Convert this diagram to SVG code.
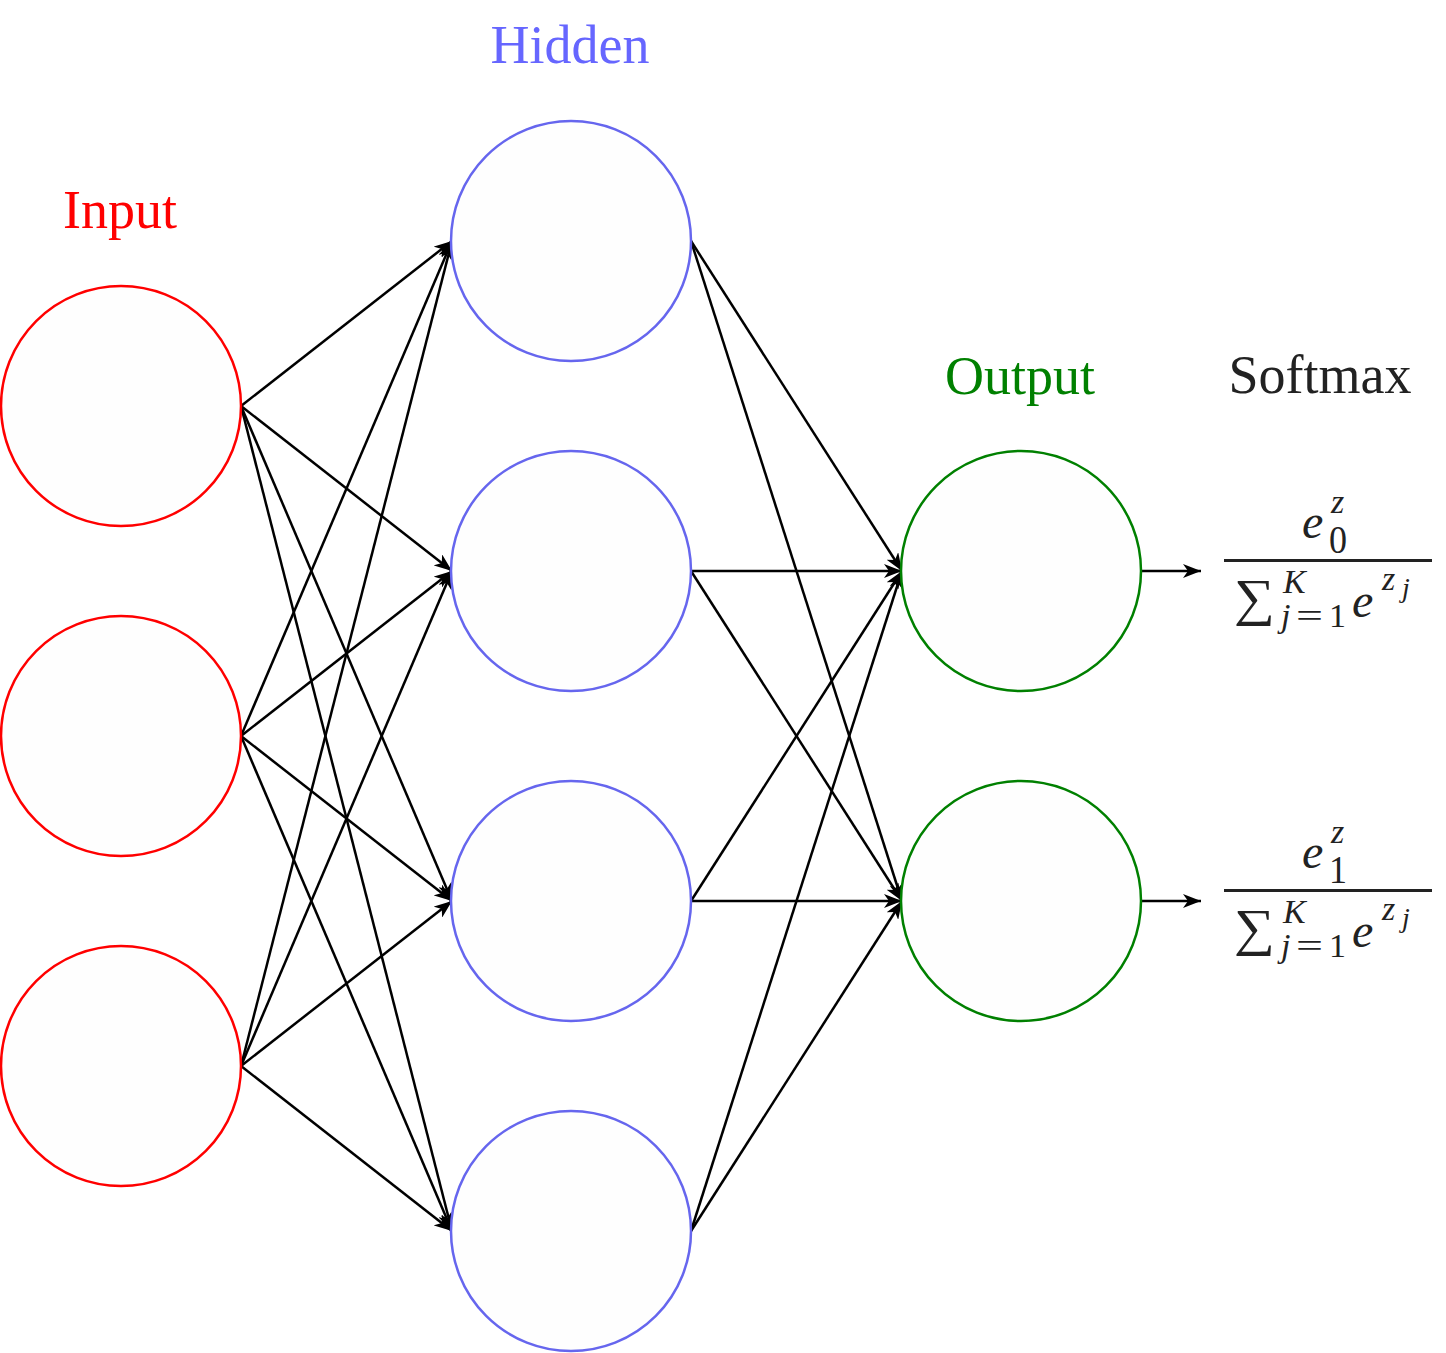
<svg xmlns="http://www.w3.org/2000/svg" width="1446" height="1353" viewBox="0 0 1446 1353">
<style>
.n{fill:#fefefe;stroke-width:2.5}
.in{stroke:#ff0000}
.hd{stroke:#6666ee}
.out{stroke:#008000}
.lbl{font-family:"Liberation Serif","DejaVu Serif",serif;font-size:54px;text-anchor:middle}
.m{font-family:"Liberation Serif","DejaVu Serif",serif;font-style:italic;fill:#222}
.mr{font-family:"Liberation Serif","DejaVu Serif",serif;fill:#222}
#edges line{stroke:#000;stroke-width:2.5;marker-end:url(#arr)}
</style>
<defs>
<marker id="arr" markerUnits="userSpaceOnUse" markerWidth="20" markerHeight="14" viewBox="0 0 20 14" refX="18" refY="7" orient="auto">
<path d="M0,0 L18,7 L0,14 L5,7 z" fill="#000"/>
</marker>
</defs>
<rect width="1446" height="1353" fill="#fff"/>
<text class="lbl" x="570" y="63" fill="#6666ff">Hidden</text>
<text class="lbl" x="120" y="228" fill="#ff0000">Input</text>
<text class="lbl" x="1020" y="394" fill="#008000">Output</text>
<text class="lbl" x="1320" y="393" fill="#222">Softmax</text>
<g id="edges">
<line x1="241" y1="406" x2="452" y2="241"/>
<line x1="241" y1="406" x2="452" y2="571"/>
<line x1="241" y1="406" x2="452" y2="901"/>
<line x1="241" y1="406" x2="452" y2="1231"/>
<line x1="241" y1="736" x2="452" y2="241"/>
<line x1="241" y1="736" x2="452" y2="571"/>
<line x1="241" y1="736" x2="452" y2="901"/>
<line x1="241" y1="736" x2="452" y2="1231"/>
<line x1="241" y1="1066" x2="452" y2="241"/>
<line x1="241" y1="1066" x2="452" y2="571"/>
<line x1="241" y1="1066" x2="452" y2="901"/>
<line x1="241" y1="1066" x2="452" y2="1231"/>
<line x1="691" y1="241" x2="902" y2="571"/>
<line x1="691" y1="241" x2="902" y2="901"/>
<line x1="691" y1="571" x2="902" y2="571"/>
<line x1="691" y1="571" x2="902" y2="901"/>
<line x1="691" y1="901" x2="902" y2="571"/>
<line x1="691" y1="901" x2="902" y2="901"/>
<line x1="691" y1="1231" x2="902" y2="571"/>
<line x1="691" y1="1231" x2="902" y2="901"/>
<line x1="1141" y1="571" x2="1201" y2="571"/>
<line x1="1141" y1="901" x2="1201" y2="901"/>
</g>
<g id="input0"><circle class="n in" cx="121" cy="406" r="120"/></g>
<g id="input1"><circle class="n in" cx="121" cy="736" r="120"/></g>
<g id="input2"><circle class="n in" cx="121" cy="1066" r="120"/></g>
<g id="hidden0"><circle class="n hd" cx="571" cy="241" r="120"/></g>
<g id="hidden1"><circle class="n hd" cx="571" cy="571" r="120"/></g>
<g id="hidden2"><circle class="n hd" cx="571" cy="901" r="120"/></g>
<g id="hidden3"><circle class="n hd" cx="571" cy="1231" r="120"/></g>
<g id="output0"><circle class="n out" cx="1021" cy="571" r="120"/></g>
<g id="output1"><circle class="n out" cx="1021" cy="901" r="120"/></g>
<g id="softmax0">
<text class="m" x="1302" y="538" font-size="48">e</text>
<text class="m" x="1331" y="513" font-size="34">z</text>
<text class="mr" x="1329" y="553" font-size="40" textLength="18" lengthAdjust="spacingAndGlyphs">0</text>
<rect x="1224" y="559" width="208" height="3" fill="#222"/>
<text class="mr" x="1234" y="615" font-size="52" textLength="41" lengthAdjust="spacingAndGlyphs">∑</text>
<text class="m" x="1283" y="593" font-size="34">K</text>
<text class="m" x="1281" y="627" font-size="34">j</text>
<text class="mr" x="1296" y="627" font-size="34" textLength="27" lengthAdjust="spacingAndGlyphs">=</text>
<text class="mr" x="1329" y="627" font-size="34">1</text>
<text class="m" x="1352" y="617" font-size="48">e</text>
<text class="m" x="1382" y="590" font-size="34">z</text>
<text class="m" x="1402" y="597" font-size="28">j</text>
</g>
<g id="softmax1">
<text class="m" x="1302" y="868" font-size="48">e</text>
<text class="m" x="1331" y="843" font-size="34">z</text>
<text class="mr" x="1329" y="883" font-size="40" textLength="18" lengthAdjust="spacingAndGlyphs">1</text>
<rect x="1224" y="889" width="208" height="3" fill="#222"/>
<text class="mr" x="1234" y="945" font-size="52" textLength="41" lengthAdjust="spacingAndGlyphs">∑</text>
<text class="m" x="1283" y="923" font-size="34">K</text>
<text class="m" x="1281" y="957" font-size="34">j</text>
<text class="mr" x="1296" y="957" font-size="34" textLength="27" lengthAdjust="spacingAndGlyphs">=</text>
<text class="mr" x="1329" y="957" font-size="34">1</text>
<text class="m" x="1352" y="947" font-size="48">e</text>
<text class="m" x="1382" y="920" font-size="34">z</text>
<text class="m" x="1402" y="927" font-size="28">j</text>
</g>
</svg>
